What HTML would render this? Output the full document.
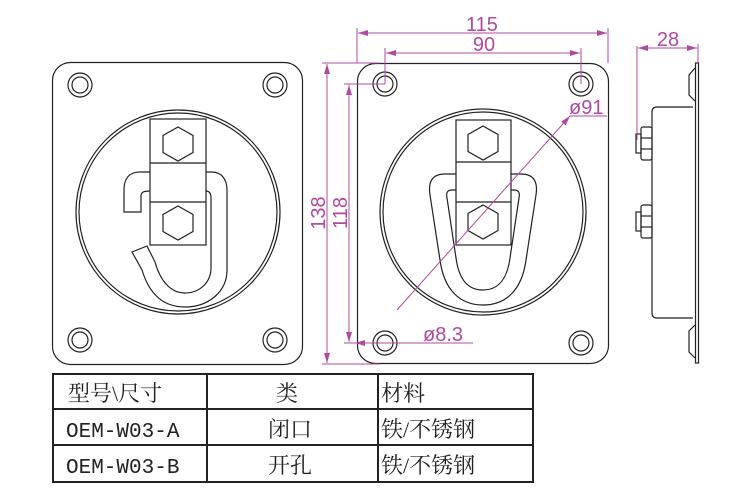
<!DOCTYPE html>
<html><head><meta charset="utf-8"><style>
body{margin:0;background:#fff;}
svg{display:block}
</style></head><body>
<svg width="750" height="500" viewBox="0 0 750 500" xmlns="http://www.w3.org/2000/svg">
<defs>
<marker id="a" viewBox="0 0 10 6" refX="10" refY="3" markerWidth="10" markerHeight="6" orient="auto-start-reverse" markerUnits="userSpaceOnUse"><path d="M0,0 L10,3 L0,6 z" fill="#b04aa0"/></marker>
</defs>
<g fill="none" stroke="#222" stroke-width="1.2">
<!-- left plate -->
<rect x="52.5" y="62.5" width="250" height="302" rx="18"/>
<circle cx="80" cy="85" r="12"/><circle cx="80" cy="85" r="8"/>
<circle cx="275" cy="85" r="12"/><circle cx="275" cy="85" r="8"/>
<circle cx="80" cy="340" r="12"/><circle cx="80" cy="340" r="8"/>
<circle cx="275" cy="340" r="12"/><circle cx="275" cy="340" r="8"/>
<circle cx="178" cy="212" r="102"/><circle cx="178" cy="212" r="99"/>
<path d="M150,172 H140 C128,172 124,180 124,190 V212 H141 V196 C141,192 144,191 150,191"/>
<path d="M206,172 H212 C222,172 227,180 227,190 V270 C227,292 208,307 185,307 C160,307 148,290 142,270 L132,252 L147,246 L155,262 C160,280 170,293 185,293 C200,293 211,282 211,268 V198 C211,193 209,191 206,191"/>
<rect x="150" y="119" width="56" height="126" fill="#fff"/>
<line x1="150" y1="163" x2="206" y2="163"/><line x1="150" y1="202" x2="206" y2="202"/>
<polygon points="178,127 193,135.5 193,152.5 178,161 163,152.5 163,135.5"/>
<polygon points="178,206 193,214.5 193,231.5 178,240 163,231.5 163,214.5"/>
<!-- right plate -->
<rect x="357.5" y="63.5" width="251" height="300" rx="18"/>
<circle cx="385" cy="84" r="12"/><circle cx="385" cy="84" r="8"/>
<circle cx="581" cy="84" r="12"/><circle cx="581" cy="84" r="8"/>
<circle cx="385" cy="343" r="12"/><circle cx="385" cy="343" r="8"/>
<circle cx="581" cy="343" r="12"/><circle cx="581" cy="343" r="8"/>
<circle cx="483" cy="212" r="103"/><circle cx="483" cy="212" r="100"/>
<path d="M456,174 H445 C432,174 428,182 430,195 L440,260 C444,290 460,305 483,305 C506,305 522,290 526,260 L536,195 C538,182 534,174 521,174 H511"/>
<path d="M456,190 H452 C447,190 446,193 447,198 L456,258 C459,280 468,290 483,290 C498,290 507,280 510,258 L519,198 C520,193 519,190 514,190 H511"/>
<rect x="456" y="120" width="55" height="125" fill="#fff"/>
<line x1="456" y1="162" x2="511" y2="162"/><line x1="456" y1="202" x2="511" y2="202"/>
<polygon points="483,126 498,134.5 498,151.5 483,160 468,151.5 468,134.5"/>
<polygon points="483,205 498,213.5 498,230.5 483,239 468,230.5 468,213.5"/>
<!-- side view -->
<rect x="695.5" y="63" width="3" height="300"/>
<path d="M695,68 L689,75 V95 L695,101"/>
<path d="M695,325 L689,331 V352 L695,358"/>
<path d="M693,107 H657 Q652,107 652,112 V313 Q652,318 657,318 H693"/>
<rect x="641" y="127" width="11" height="33" rx="2"/><line x1="641" y1="138" x2="652" y2="138"/><line x1="641" y1="149" x2="652" y2="149"/>
<rect x="636" y="134" width="5" height="19"/>
<rect x="641" y="205" width="11" height="33" rx="2"/><line x1="641" y1="216" x2="652" y2="216"/><line x1="641" y1="227" x2="652" y2="227"/>
<rect x="636" y="212" width="5" height="19"/>
</g>
<g fill="none" stroke="#b04aa0" stroke-width="1">
<line x1="357" y1="63" x2="357" y2="28"/><line x1="608" y1="63" x2="608" y2="28"/>
<line x1="358" y1="33" x2="607" y2="33" marker-start="url(#a)" marker-end="url(#a)"/>
<line x1="385" y1="84" x2="385" y2="48"/><line x1="581" y1="84" x2="581" y2="48"/>
<line x1="386" y1="53" x2="580" y2="53" marker-start="url(#a)" marker-end="url(#a)"/>
<line x1="322" y1="63" x2="380" y2="63"/><line x1="322" y1="364" x2="380" y2="364"/>
<line x1="327" y1="64" x2="327" y2="363" marker-start="url(#a)" marker-end="url(#a)"/>
<line x1="344" y1="84" x2="385" y2="84"/><line x1="344" y1="343" x2="385" y2="343"/>
<line x1="349" y1="85" x2="349" y2="342" marker-start="url(#a)" marker-end="url(#a)"/>
<line x1="397" y1="310" x2="570" y2="116" marker-end="url(#a)"/>
<line x1="570" y1="116" x2="607" y2="116"/>
<line x1="355" y1="343" x2="473" y2="343" marker-start="url(#a)"/>
<line x1="637" y1="46" x2="637" y2="140"/><line x1="698" y1="44" x2="698" y2="63"/>
<line x1="638" y1="48" x2="697" y2="48" marker-start="url(#a)" marker-end="url(#a)"/>
</g>
<g fill="#b04aa0" font-family="Liberation Sans Narrow, Liberation Sans, sans-serif" font-size="20">
<text x="482" y="31" text-anchor="middle">115</text>
<text x="484" y="51" text-anchor="middle">90</text>
<text x="668" y="46" text-anchor="middle">28</text>
<text x="569" y="114">ø91</text>
<text x="423" y="341">ø8.3</text>
<text transform="translate(325,213) rotate(-90)" text-anchor="middle">138</text>
<text transform="translate(347,213) rotate(-90)" text-anchor="middle">118</text>
</g>
<g stroke="#222" stroke-width="2" fill="none">
<rect x="53" y="374" width="480" height="108"/>
<line x1="53" y1="409" x2="533" y2="409"/><line x1="53" y1="445" x2="533" y2="445"/>
<line x1="207" y1="374" x2="207" y2="482"/><line x1="378" y1="374" x2="378" y2="482"/>
</g>
<g fill="#222" font-family="Liberation Serif, 'Noto Serif CJK SC', serif" font-size="22">
<text x="68" y="401">型号\尺寸</text>
<text x="276" y="401">类</text>
<text x="381" y="401">材料</text>
<text x="66" y="437" font-family="Liberation Mono, monospace" font-size="21">OEM-W03-A</text>
<text x="268" y="437">闭口</text>
<text x="381" y="437">铁/不锈钢</text>
<text x="66" y="473" font-family="Liberation Mono, monospace" font-size="21">OEM-W03-B</text>
<text x="268" y="473">开孔</text>
<text x="381" y="473">铁/不锈钢</text>
</g>
</svg>
</body></html>
